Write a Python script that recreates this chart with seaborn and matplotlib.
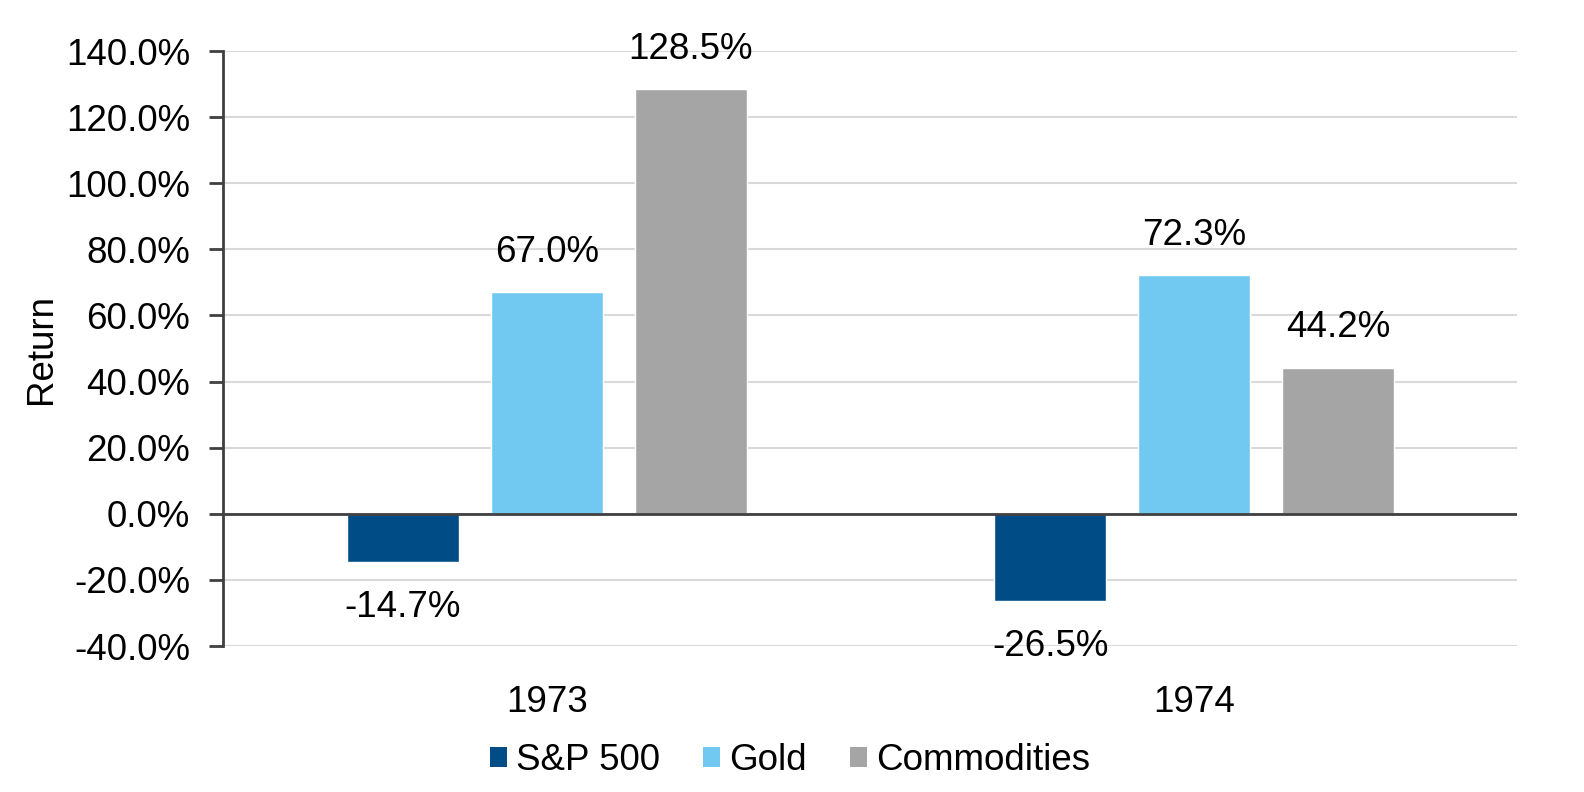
import matplotlib
matplotlib.use("Agg")
import matplotlib.pyplot as plt
import seaborn as sns
import pandas as pd
from matplotlib.ticker import FuncFormatter, FixedLocator
from matplotlib.patches import Patch

years = ["1973", "1974"]
assets = ["S&P 500", "Gold", "Commodities"]
sp500 = [-14.7, -26.5]
gold = [67.0, 72.3]
commodities = [128.5, 44.2]
colors = ["#004C87", "#71C9F2", "#A5A5A5"]
yticks = [-40, -20, 0, 20, 40, 60, 80, 100, 120, 140]

rows = []
for i, y in enumerate(years):
    for a, vals in zip(assets, [sp500, gold, commodities]):
        rows.append({"Year": y, "Asset": a, "Return": vals[i]})
df = pd.DataFrame(rows)

sns.set_theme(style="white")
plt.rcParams['font.family'] = ['Liberation Sans', 'DejaVu Sans']

FS = 26.5
fig = plt.figure(figsize=(15.84, 7.92), dpi=100)
ax = fig.add_axes([0.141, 0.1843, 0.817, 0.7513])

sns.barplot(data=df, x="Year", y="Return", hue="Asset", order=years, hue_order=assets,
            palette=colors, width=0.667, gap=0.222, ax=ax, legend=False,
            saturation=1, errorbar=None)

ax.set_ylim(-40, 140)
ax.set_xlim(-0.5, 1.5)
ax.yaxis.set_major_locator(FixedLocator(yticks))
ax.yaxis.set_major_formatter(FuncFormatter(lambda v, p: f"{v:.1f}%"))
ax.grid(axis="y", color="#D9D9D9", linewidth=1.5)
ax.set_axisbelow(True)
ax.axhline(0, color="#404040", linewidth=2, zorder=3)

for s in ["top", "right", "bottom"]:
    ax.spines[s].set_visible(False)
ax.spines["left"].set_color("#404040")
ax.spines["left"].set_linewidth(2)
ax.tick_params(axis="y", which="major", left=True, length=10, width=2, color="#404040",
               labelsize=FS, pad=14, labelcolor="black")
ax.tick_params(axis="x", bottom=False, labelsize=FS, pad=22, labelcolor="black")
ax.set_xlabel("")
ax.set_ylabel("Return", fontsize=FS, color="black", labelpad=5)

for container in ax.containers:
    for bar in container:
        h = bar.get_height()
        x = bar.get_x() + bar.get_width() / 2
        if h >= 0:
            ax.annotate(f"{h:.1f}%", (x, h), xytext=(0, 16), textcoords="offset points",
                        ha="center", va="bottom", fontsize=FS, color="black")
        else:
            ax.annotate(f"{h:.1f}%", (x, h), xytext=(0, -20), textcoords="offset points",
                        ha="center", va="top", fontsize=FS, color="black")

handles = [Patch(facecolor=c, edgecolor="none") for c in colors]
leg = fig.legend(handles, assets, loc="center", bbox_to_anchor=(0.499, 0.040), ncol=3,
                 frameon=False, fontsize=FS, handlelength=0.46, handleheight=0.46,
                 handletextpad=0.25, columnspacing=1.17)
for t in leg.get_texts():
    t.set_color("black")

fig.savefig("out.png", dpi=100)
